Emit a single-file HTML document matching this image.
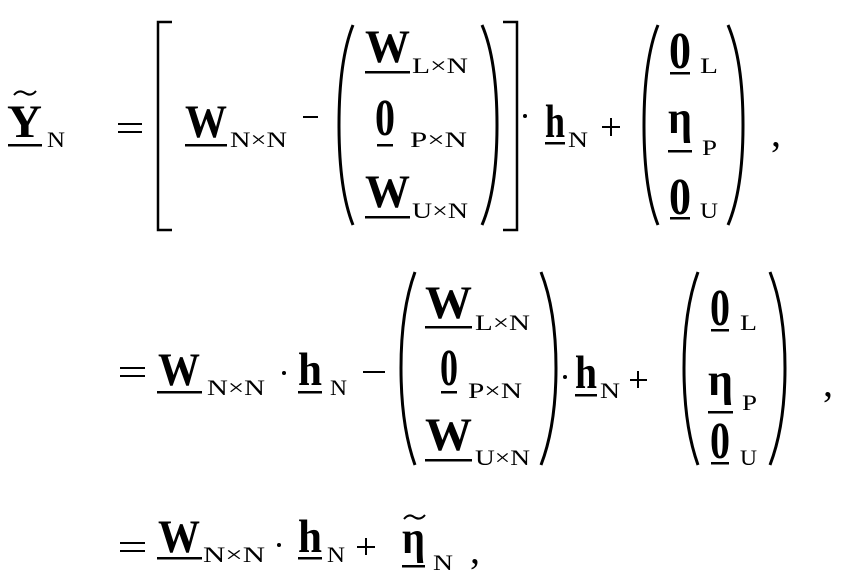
<!DOCTYPE html>
<html><head><meta charset="utf-8"><style>
body{margin:0;background:#fff;}
svg{display:block}
text{font-family:"Liberation Serif",serif;fill:#000}
.b{font-weight:bold;font-size:47px}
.z{font-weight:bold;font-size:52px}
.s{font-size:22px}
.o{font-size:40px}
</style></head><body>
<svg width="844" height="575" viewBox="0 0 844 575" xmlns="http://www.w3.org/2000/svg">
<g stroke="#000" fill="none">
<path d="M172 22 H158 V230 H172" stroke-width="2.5"/>
<path d="M503 22 H517 V230 H503" stroke-width="2.5"/>
<path d="M353 25 Q339 60 339 125 Q339 190 353 225" stroke-width="3"/>
<path d="M482 25 Q497 60 497 125 Q497 190 482 225" stroke-width="3"/>
<path d="M658 25 Q644 60 644 125 Q644 190 658 225" stroke-width="3"/>
<path d="M728 25 Q743 60 743 125 Q743 190 728 225" stroke-width="3"/>
<path d="M415 272 Q401 310 401 368 Q401 426 415 465" stroke-width="3"/>
<path d="M541 272 Q556 310 556 368 Q556 426 541 465" stroke-width="3"/>
<path d="M698 272 Q684 310 684 368 Q684 426 698 465" stroke-width="3"/>
<path d="M770 272 Q785 310 785 368 Q785 426 770 465" stroke-width="3"/>
<path d="M14 95 Q19 89 25 93 Q31 97 36 91" stroke-width="2"/>
<path d="M404 519 Q409 513 414 517 Q420 521 425 515" stroke-width="2"/>
</g>
<g fill="#000">
<!-- equals, minus, plus, dots -->
<rect x="118" y="123" width="24" height="2"/><rect x="118" y="131" width="24" height="2"/>
<rect x="303" y="116" width="15" height="2"/>
<circle cx="525" cy="116" r="2"/>
<rect x="602" y="126" width="18" height="2"/><rect x="610" y="118" width="2" height="18"/>
<rect x="120" y="367" width="25" height="2"/><rect x="120" y="375" width="25" height="2"/>
<circle cx="284" cy="373" r="2"/>
<rect x="363" y="371" width="22" height="2"/>
<circle cx="565" cy="377" r="2"/>
<rect x="630" y="379" width="17" height="2"/><rect x="637" y="371" width="2" height="17"/>
<rect x="120" y="542" width="25" height="2"/><rect x="120" y="550" width="25" height="2"/>
<circle cx="279" cy="545" r="2"/>
<rect x="357" y="546" width="18" height="2"/><rect x="365" y="538" width="2" height="17"/>
<!-- underlines -->
<rect x="8" y="144" width="34" height="2.5"/>
<rect x="185" y="144" width="42" height="2.5"/>
<rect x="365" y="71" width="45" height="2.5"/>
<rect x="377" y="144" width="16" height="2.5"/>
<rect x="365" y="216" width="45" height="2.5"/>
<rect x="545" y="142" width="20" height="2.5"/>
<rect x="670" y="72" width="20" height="2.5"/>
<rect x="668" y="150" width="24" height="2.5"/>
<rect x="670" y="217" width="20" height="2.5"/>
<rect x="157" y="391" width="45" height="2.5"/>
<rect x="298" y="391" width="24" height="2.5"/>
<rect x="425" y="326" width="47" height="2.5"/>
<rect x="441" y="391" width="16" height="2.5"/>
<rect x="425" y="459" width="47" height="2.5"/>
<rect x="575" y="394" width="22" height="2.5"/>
<rect x="711" y="329" width="18" height="2.5"/>
<rect x="708" y="411" width="25" height="2.5"/>
<rect x="711" y="462" width="18" height="2.5"/>
<rect x="157" y="557" width="45" height="2.5"/>
<rect x="298" y="557" width="24" height="2.5"/>
<rect x="402" y="565" width="23" height="2.5"/>
</g>
<!-- row1 -->
<text class="b" x="7" y="137" textLength="35" lengthAdjust="spacingAndGlyphs">Y</text>
<text class="s" x="47" y="147" textLength="18" lengthAdjust="spacingAndGlyphs">N</text>
<text class="b" x="185" y="137" textLength="42" lengthAdjust="spacingAndGlyphs">W</text>
<text class="s" x="230" y="147" textLength="57" lengthAdjust="spacingAndGlyphs">N×N</text>
<text class="b" x="365" y="62" textLength="45" lengthAdjust="spacingAndGlyphs">W</text>
<text class="s" x="412" y="73" textLength="56" lengthAdjust="spacingAndGlyphs">L×N</text>
<text class="z" x="375" y="135" textLength="20" lengthAdjust="spacingAndGlyphs">0</text>
<text class="s" x="410" y="147" textLength="57" lengthAdjust="spacingAndGlyphs">P×N</text>
<text class="b" x="365" y="207" textLength="45" lengthAdjust="spacingAndGlyphs">W</text>
<text class="s" x="412" y="218" textLength="56" lengthAdjust="spacingAndGlyphs">U×N</text>
<text class="b" x="545" y="137" textLength="20" lengthAdjust="spacingAndGlyphs">h</text>
<text class="s" x="568" y="147" textLength="20" lengthAdjust="spacingAndGlyphs">N</text>
<text class="z" x="669" y="68" textLength="22" lengthAdjust="spacingAndGlyphs">0</text>
<text class="s" x="700" y="73" textLength="18" lengthAdjust="spacingAndGlyphs">L</text>
<text class="b" x="668" y="133" textLength="24" lengthAdjust="spacingAndGlyphs">η</text>
<text class="s" x="702" y="155" textLength="15" lengthAdjust="spacingAndGlyphs">P</text>
<text class="z" x="669" y="214" textLength="22" lengthAdjust="spacingAndGlyphs">0</text>
<text class="s" x="700" y="218" textLength="18" lengthAdjust="spacingAndGlyphs">U</text>
<text class="o" x="771" y="146">,</text>
<!-- row2 -->
<text class="b" x="158" y="385" textLength="42" lengthAdjust="spacingAndGlyphs">W</text>
<text class="s" x="207" y="395" textLength="58" lengthAdjust="spacingAndGlyphs">N×N</text>
<text class="b" x="298" y="385" textLength="24" lengthAdjust="spacingAndGlyphs">h</text>
<text class="s" x="330" y="395" textLength="17" lengthAdjust="spacingAndGlyphs">N</text>
<text class="b" x="425" y="318" textLength="47" lengthAdjust="spacingAndGlyphs">W</text>
<text class="s" x="475" y="330" textLength="55" lengthAdjust="spacingAndGlyphs">L×N</text>
<text class="z" x="440" y="385" textLength="18" lengthAdjust="spacingAndGlyphs">0</text>
<text class="s" x="468" y="398" textLength="54" lengthAdjust="spacingAndGlyphs">P×N</text>
<text class="b" x="425" y="450" textLength="47" lengthAdjust="spacingAndGlyphs">W</text>
<text class="s" x="475" y="465" textLength="55" lengthAdjust="spacingAndGlyphs">U×N</text>
<text class="b" x="575" y="388" textLength="22" lengthAdjust="spacingAndGlyphs">h</text>
<text class="s" x="600" y="398" textLength="20" lengthAdjust="spacingAndGlyphs">N</text>
<text class="z" x="710" y="325" textLength="20" lengthAdjust="spacingAndGlyphs">0</text>
<text class="s" x="740" y="330" textLength="17" lengthAdjust="spacingAndGlyphs">L</text>
<text class="b" x="708" y="395" textLength="25" lengthAdjust="spacingAndGlyphs">η</text>
<text class="s" x="742" y="410" textLength="15" lengthAdjust="spacingAndGlyphs">P</text>
<text class="z" x="710" y="458" textLength="20" lengthAdjust="spacingAndGlyphs">0</text>
<text class="s" x="740" y="465" textLength="17" lengthAdjust="spacingAndGlyphs">U</text>
<text class="o" x="823" y="396">,</text>
<!-- row3 -->
<text class="b" x="158" y="552" textLength="42" lengthAdjust="spacingAndGlyphs">W</text>
<text class="s" x="203" y="562" textLength="62" lengthAdjust="spacingAndGlyphs">N×N</text>
<text class="b" x="298" y="552" textLength="24" lengthAdjust="spacingAndGlyphs">h</text>
<text class="s" x="327" y="562" textLength="18" lengthAdjust="spacingAndGlyphs">N</text>
<text class="b" x="402" y="553" textLength="23" lengthAdjust="spacingAndGlyphs">η</text>
<text class="s" x="433" y="570" textLength="20" lengthAdjust="spacingAndGlyphs">N</text>
<text class="o" x="470" y="563">,</text>
</svg>
</body></html>
